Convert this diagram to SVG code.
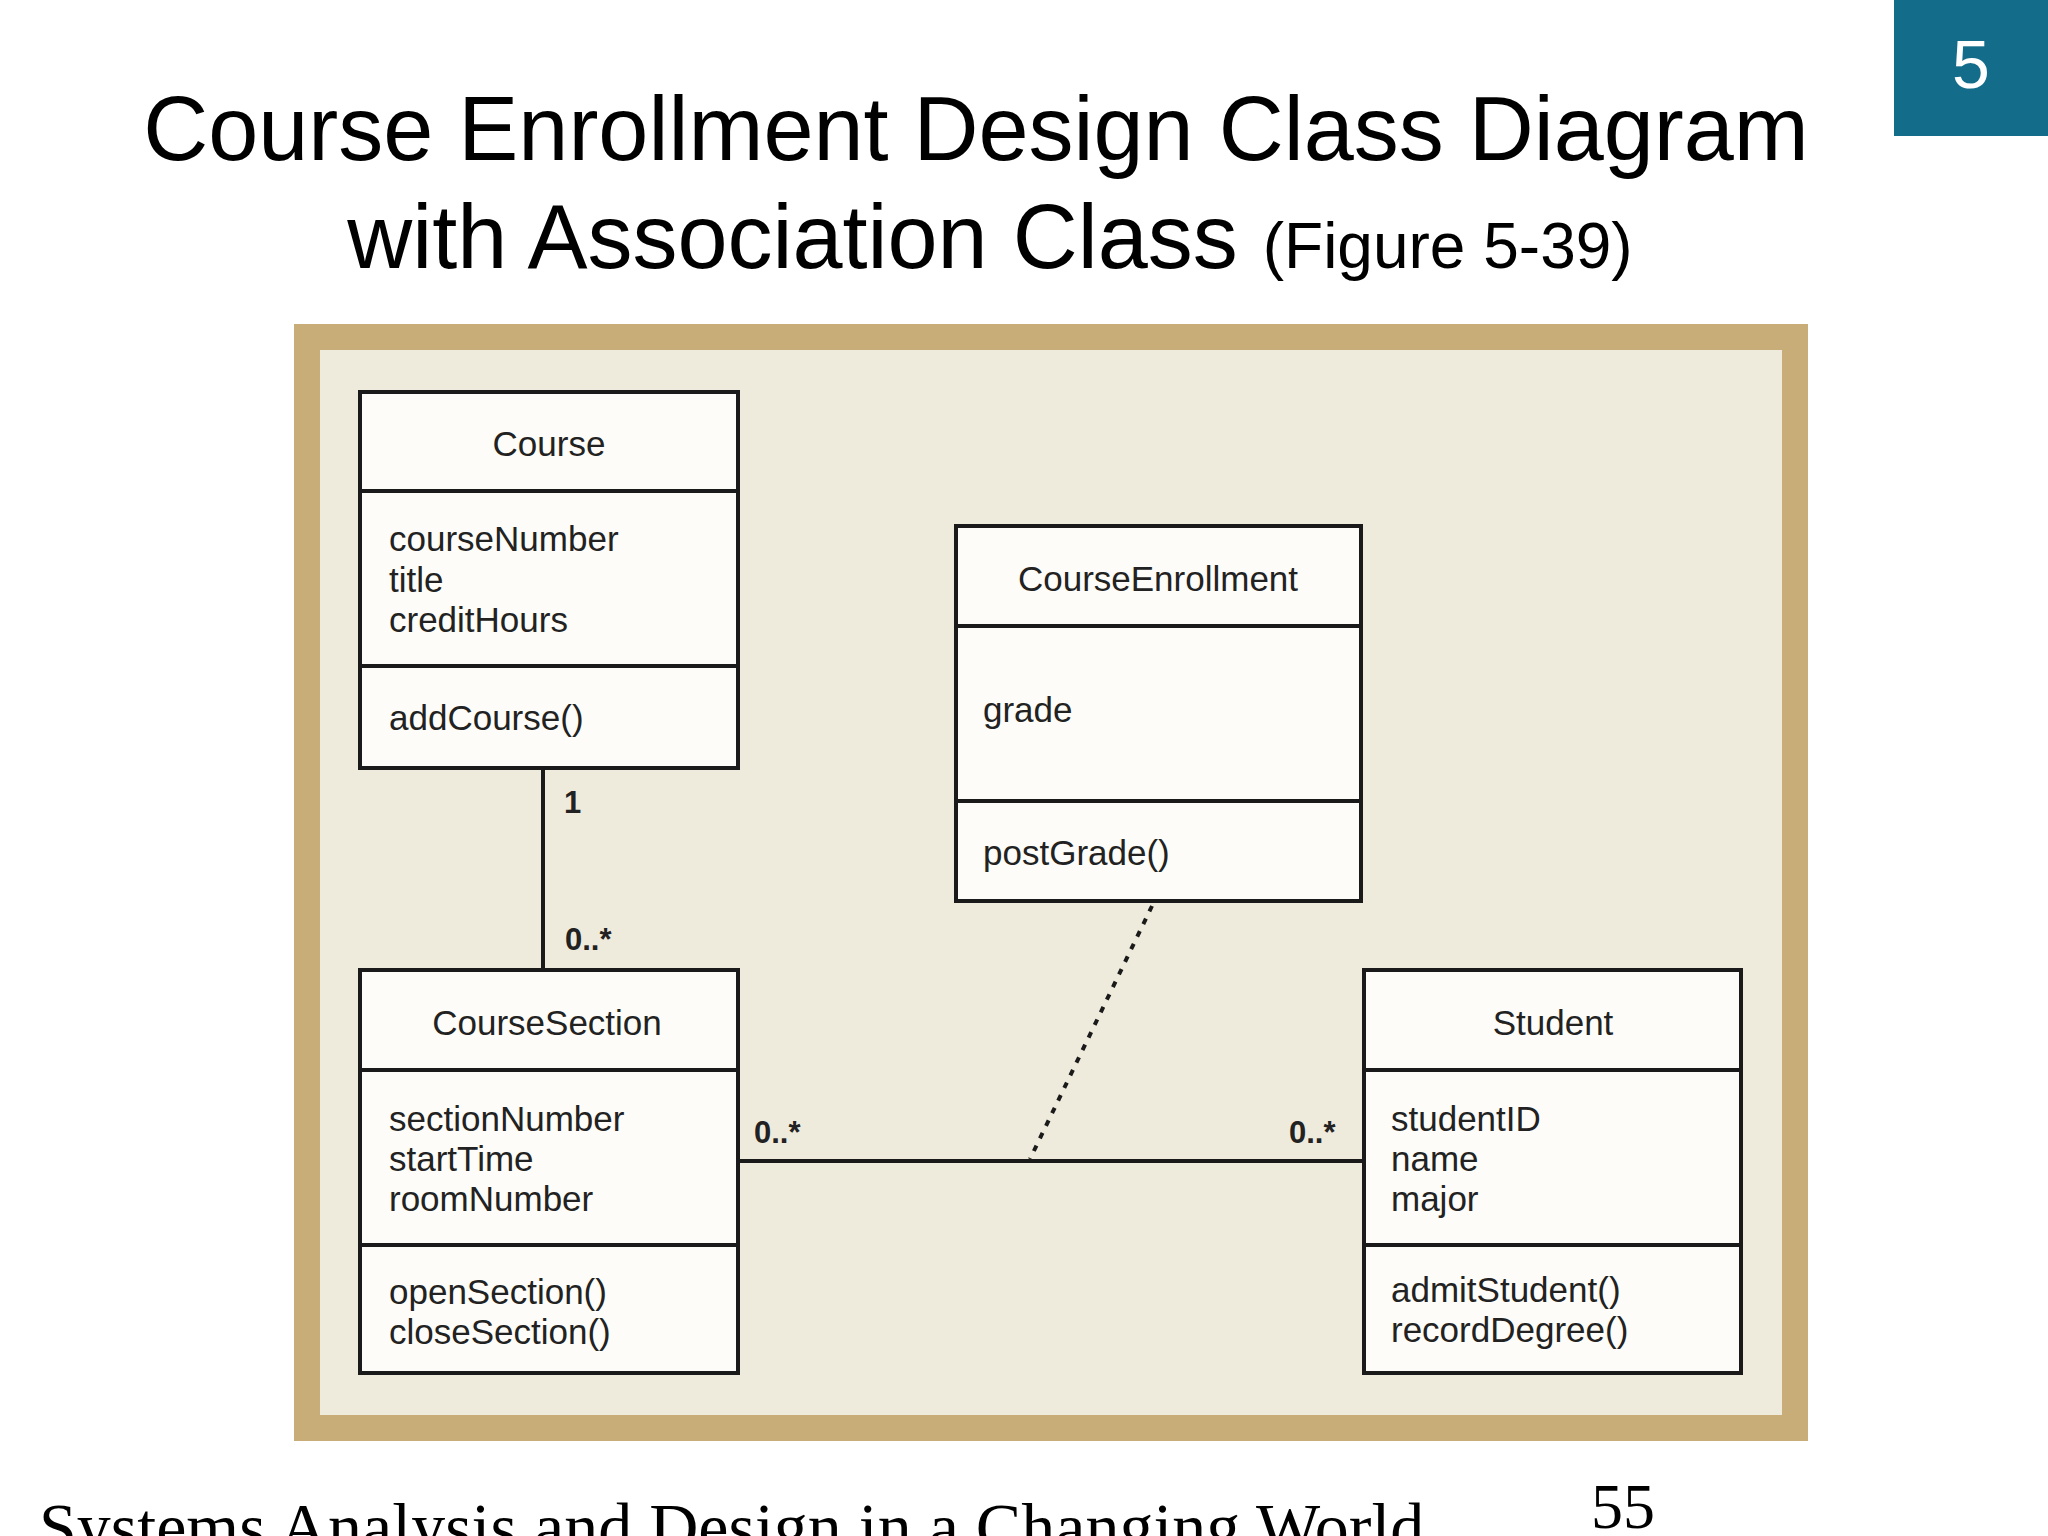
<svg xmlns="http://www.w3.org/2000/svg" width="2048" height="1536" viewBox="0 0 2048 1536">
<style>
.box{fill:#fdfcf8;stroke:#1a1a1a;stroke-width:4}
.div{stroke:#1a1a1a;stroke-width:4}
.t{font-family:"Liberation Sans",Arial,sans-serif;font-size:35px;fill:#222}
.c{text-anchor:middle}
.m{font-family:"Liberation Sans",Arial,sans-serif;font-size:31px;font-weight:bold;fill:#222}
.ln{stroke:#1a1a1a;stroke-width:4;fill:none}
</style>
<rect width="2048" height="1536" fill="#fff"/>
<rect x="1894" y="0" width="154" height="136" fill="#136d8a"/>
<text x="1971" y="88" font-family="Liberation Sans,Arial,sans-serif" font-size="68" fill="#fff" text-anchor="middle">5</text>
<text x="976" y="160" font-family="Liberation Sans,Arial,sans-serif" font-size="90" fill="#000" text-anchor="middle">Course Enrollment Design Class Diagram</text>
<text x="990" y="268" font-family="Liberation Sans,Arial,sans-serif" font-size="90" fill="#000" text-anchor="middle">with Association Class <tspan font-size="64">(Figure 5-39)</tspan></text>
<rect x="307" y="337" width="1488" height="1091" fill="#efebdc" stroke="#c8ad78" stroke-width="26"/>
<g id="connectors">
<line class="ln" x1="543" y1="768" x2="543" y2="970"/>
<line class="ln" x1="738" y1="1161" x2="1364" y2="1161"/>
<line class="ln" x1="1152" y1="906" x2="1030" y2="1159" stroke-dasharray="6,8"/>
<text class="m" x="564" y="813">1</text>
<text class="m" x="565" y="950">0..*</text>
<text class="m" x="754" y="1143">0..*</text>
<text class="m" x="1289" y="1143">0..*</text>
</g>
<g id="course">
<rect class="box" x="360" y="392" width="378" height="376"/>
<line class="div" x1="360" y1="491" x2="738" y2="491"/>
<line class="div" x1="360" y1="666" x2="738" y2="666"/>
<text class="t c" x="549" y="456">Course</text>
<text class="t" x="389" y="551">courseNumber</text>
<text class="t" x="389" y="592">title</text>
<text class="t" x="389" y="632">creditHours</text>
<text class="t" x="389" y="730">addCourse()</text>
</g>
<g id="courseEnrollment">
<rect class="box" x="956" y="526" width="405" height="375"/>
<line class="div" x1="956" y1="626" x2="1361" y2="626"/>
<line class="div" x1="956" y1="801" x2="1361" y2="801"/>
<text class="t c" x="1158" y="591">CourseEnrollment</text>
<text class="t" x="983" y="722">grade</text>
<text class="t" x="983" y="865">postGrade()</text>
</g>
<g id="courseSection">
<rect class="box" x="360" y="970" width="378" height="403"/>
<line class="div" x1="360" y1="1070" x2="738" y2="1070"/>
<line class="div" x1="360" y1="1245" x2="738" y2="1245"/>
<text class="t c" x="547" y="1035">CourseSection</text>
<text class="t" x="389" y="1131">sectionNumber</text>
<text class="t" x="389" y="1171">startTime</text>
<text class="t" x="389" y="1211">roomNumber</text>
<text class="t" x="389" y="1304">openSection()</text>
<text class="t" x="389" y="1344">closeSection()</text>
</g>
<g id="student">
<rect class="box" x="1364" y="970" width="377" height="403"/>
<line class="div" x1="1364" y1="1070" x2="1741" y2="1070"/>
<line class="div" x1="1364" y1="1245" x2="1741" y2="1245"/>
<text class="t c" x="1553" y="1035">Student</text>
<text class="t" x="1391" y="1131">studentID</text>
<text class="t" x="1391" y="1171">name</text>
<text class="t" x="1391" y="1211">major</text>
<text class="t" x="1391" y="1302">admitStudent()</text>
<text class="t" x="1391" y="1342">recordDegree()</text>
</g>
<text x="39" y="1550" font-family="Liberation Serif,Times New Roman,serif" font-size="68" fill="#000">Systems Analysis and Design in a Changing World</text>
<text x="1591" y="1528" font-family="Liberation Serif,Times New Roman,serif" font-size="64" fill="#000">55</text>
</svg>
